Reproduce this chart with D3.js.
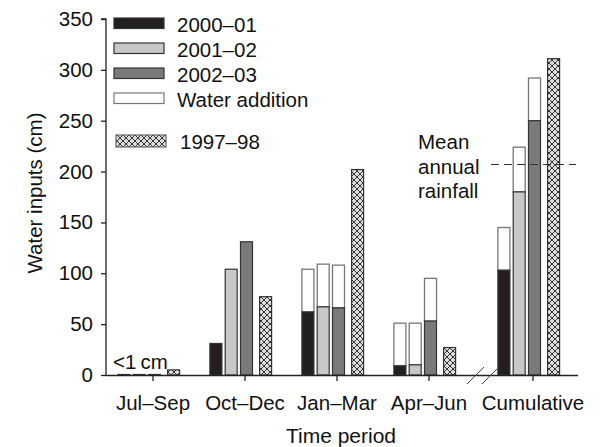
<!DOCTYPE html>
<html lang="en">
<head>
<meta charset="UTF-8">
<title>Water inputs</title>
<script src="https://d3js.org/d3.v7.min.js"></script>
<style>
  body { margin: 0; background: #fff; }
  text { font-family: "Liberation Sans", Arial, sans-serif; fill: #111; }
</style>
</head>
<body>
<script>
// data (cm)
var periods = ["Jul\u2013Sep", "Oct\u2013Dec", "Jan\u2013Mar", "Apr\u2013Jun", "Cumulative"];
var years = ["2000\u201301", "2001\u201302", "2002\u201303"];
var rain2000 = [0.5, 31, 62, 9, 103];
var rain2001 = [0.5, 104, 67, 10, 180];
var rain2002 = [0.5, 131, 66, 53, 250];
var add2000 = [0, 0, 42, 42, 42];
var add2001 = [0, 0, 42, 41, 44];
var add2002 = [0, 0, 42, 42, 42];
var rain1997 = [5, 77, 202, 27, 311];
var meanRain = 207;
var yTicks = [0, 50, 100, 150, 200, 250, 300, 350];

var width = 600, height = 447;
var fs = "20.5px";
var svg = d3.select("body").append("svg").attr("width", width).attr("height", height);

var defs = svg.append("defs");
var pat = defs.append("pattern").attr("id", "hatch").attr("patternUnits", "userSpaceOnUse")
  .attr("width", 6).attr("height", 6);
pat.append("rect").attr("width", 6).attr("height", 6).attr("fill", "#dcdcdc");
pat.append("path").attr("d", "M0,0L6,6M6,0L0,6").attr("stroke", "#333").attr("stroke-width", 1);

var y = d3.scaleLinear().domain([0, 350]).range([375, 19]);
var x = d3.scalePoint().domain(periods).range([153, 521]);
function gx(p) { return x(p) + (p == "Cumulative" ? 12 : 0); }
var bw = 12, step = 15.3;

var fills = ["#231f20", "#c8c8c8", "#7a7a7a"];
var rains = [rain2000, rain2001, rain2002];
var adds = [add2000, add2001, add2002];

var g = svg.append("g");
periods.forEach(function(p, i) {
  var cx = gx(p);
  for (var k = 0; k < 3; k++) {
    var bx = cx - 2 * step + k * step - bw / 2 + 1.5;
    var r = rains[k][i], a = adds[k][i];
    if (a > 0) {
      g.append("rect").attr("x", bx).attr("y", y(r + a)).attr("width", bw)
        .attr("height", y(r) - y(r + a)).attr("fill", "#fff")
        .attr("stroke", "#777").attr("stroke-width", 1.3);
    }
    g.append("rect").attr("x", bx).attr("y", y(r)).attr("width", bw)
      .attr("height", y(0) - y(r)).attr("fill", fills[k])
      .attr("stroke", "#333").attr("stroke-width", 1.2);
  }
  g.append("rect").attr("x", cx + step + 3.8 - bw / 2 + 1.5).attr("y", y(rain1997[i])).attr("width", bw)
    .attr("height", y(0) - y(rain1997[i])).attr("fill", "url(#hatch)")
    .attr("stroke", "#333").attr("stroke-width", 1.2);
});

// axes
var yAxis = d3.axisLeft(y).tickValues(yTicks).tickSize(5).tickPadding(8);
var ya = svg.append("g").attr("transform", "translate(106,0)").call(yAxis);
ya.select(".domain").attr("d", "M-5,19H0V375").attr("stroke", "#222").attr("stroke-width", 1.3);
ya.selectAll(".tick line").attr("stroke", "#222").attr("stroke-width", 1.3);
ya.selectAll("text").style("font-size", fs).style("font-family", "'Liberation Sans', Arial, sans-serif").attr("fill", "#111");

svg.append("line").attr("x1", 106).attr("x2", 578).attr("y1", 375.5).attr("y2", 375.5)
  .attr("stroke", "#222").attr("stroke-width", 1.5);
periods.forEach(function(p) {
  svg.append("line").attr("x1", gx(p)).attr("x2", gx(p)).attr("y1", 375).attr("y2", 381)
    .attr("stroke", "#222").attr("stroke-width", 1.3);
  svg.append("text").attr("x", gx(p)).attr("y", 410).attr("text-anchor", "middle")
    .style("font-size", fs).text(p);
});
// axis break marks
[467, 482].forEach(function(bx) {
  svg.append("line").attr("x1", bx).attr("y1", 384).attr("x2", bx + 17).attr("y2", 367)
    .attr("stroke", "#444").attr("stroke-width", 1);
});

svg.append("text").attr("transform", "translate(42,193) rotate(-90)").attr("text-anchor", "middle")
  .style("font-size", fs).text("Water inputs (cm)");
svg.append("text").attr("x", 341).attr("y", 443).attr("text-anchor", "middle")
  .style("font-size", "21px").text("Time period");

svg.append("text").attr("x", 113).attr("y", 369).style("font-size", fs).text("<1\u2009cm");

// mean annual rainfall
svg.append("line").attr("x1", 491).attr("x2", 576).attr("y1", y(meanRain)).attr("y2", y(meanRain))
  .attr("stroke", "#333").attr("stroke-width", 1.1).attr("stroke-dasharray", "8,5");
["Mean", "annual", "rainfall"].forEach(function(t, i) {
  svg.append("text").attr("x", 418).attr("y", 149 + i * 24.5).style("font-size", fs).text(t);
});

// legend
var leg = [
  { label: years[0], fill: fills[0], stroke: "#333", y: 18 },
  { label: years[1], fill: fills[1], stroke: "#333", y: 43 },
  { label: years[2], fill: fills[2], stroke: "#333", y: 68 },
  { label: "Water addition", fill: "#fff", stroke: "#777", y: 93 },
  { label: "1997\u201398", fill: "url(#hatch)", stroke: "#666", y: 135 }
];
leg.forEach(function(d, i) {
  var lx = i == 4 ? 116 : 114;
  svg.append("rect").attr("x", lx).attr("y", d.y).attr("width", 50).attr("height", i == 4 ? 12 : 10.5)
    .attr("fill", d.fill).attr("stroke", d.stroke).attr("stroke-width", 1.2);
  svg.append("text").attr("x", i == 4 ? 180 : 177).attr("y", d.y + 14).style("font-size", fs).text(d.label);
});
</script>
</body>
</html>
